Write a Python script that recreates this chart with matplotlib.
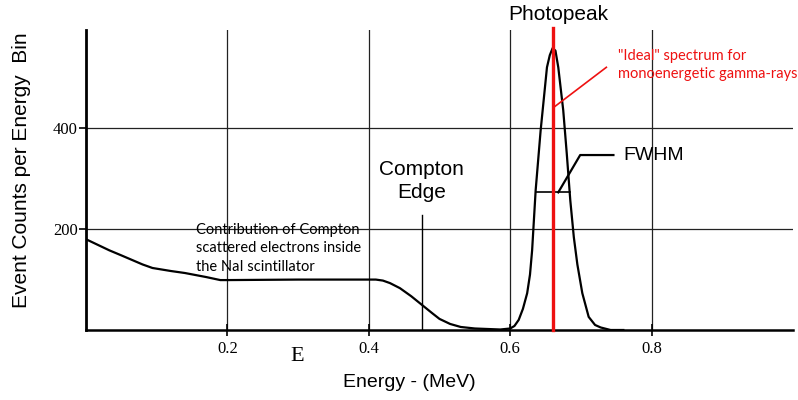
import matplotlib.pyplot as plt

# spectrum (energy in MeV, counts per bin)
energy = [0.0, 0.015, 0.033, 0.05, 0.065, 0.08, 0.094, 0.12, 0.14, 0.17,
          0.19, 0.20, 0.30, 0.41, 0.42, 0.43, 0.444, 0.46, 0.475, 0.49,
          0.50, 0.515, 0.53, 0.55, 0.586, 0.600, 0.606, 0.612, 0.618, 0.624,
          0.628, 0.631, 0.636, 0.643, 0.652, 0.656, 0.660, 0.664, 0.668,
          0.675, 0.680, 0.685, 0.690, 0.695, 0.702, 0.711, 0.720, 0.728,
          0.742, 0.76]
counts = [180, 170, 158, 148, 139, 130, 123, 117, 113, 105,
          99, 99, 100, 100, 98, 93, 83, 67, 50, 33,
          22, 12, 6, 3, 1, 3, 8, 20, 42, 73,
          110, 158, 277, 395, 521, 545, 559, 554, 521,
          436, 350, 257, 184, 130, 73, 26, 10, 5,
          0, 0]

x_ticks = [0.2, 0.4, 0.6, 0.8]
y_ticks = [200, 400]
photopeak_e = 0.66
compton_edge_e = 0.475
compton_edge_top = 228
fwhm_level = 273
fwhm_lo, fwhm_hi = 0.636, 0.685

sans = "Liberation Sans"
serif = "Liberation Serif"
note_font = "Lato"

fig = plt.figure(figsize=(7.98, 4.0), dpi=100)
ax = fig.add_axes([86 / 798, 70 / 400, 707 / 798, 300 / 400])
ax.set_xlim(0, 1.0)
ax.set_ylim(0, 595)

for s in ("top", "right"):
    ax.spines[s].set_visible(False)
ax.spines["left"].set_linewidth(2.0)
ax.spines["bottom"].set_linewidth(1.8)

# grid
for xv in x_ticks:
    ax.axvline(xv, color="#222222", lw=0.9, zorder=1)
for yv in y_ticks:
    ax.axhline(yv, color="#222222", lw=0.9, zorder=1)

ax.set_xticks(x_ticks)
ax.set_xticklabels([f"{v:.1f}" for v in x_ticks], family=serif, fontsize=12)
ax.set_yticks(y_ticks)
ax.set_yticklabels([str(v) for v in y_ticks], family=serif, fontsize=12)
ax.tick_params(axis="x", direction="inout", length=8, width=1.2, pad=4)
ax.tick_params(axis="y", direction="out", length=5, width=1.2, pad=1)

# measured spectrum
ax.plot(energy, counts, color="black", lw=1.6, zorder=3)

# ideal line
ax.axvline(photopeak_e, ymin=0, ymax=1.007, color="#ee1111", lw=2.4,
           zorder=4, clip_on=False)
ax.plot([0.661, 0.736], [441, 521], color="#ee1111", lw=1.2, zorder=4)
ax.text(0.752, 525, "\"Ideal\" spectrum for\nmonoenergetic gamma-rays",
        color="#ee1111", family=note_font, fontsize=10.5, va="center",
        ha="left", linespacing=1.4)

# FWHM
ax.plot([fwhm_lo, fwhm_hi], [fwhm_level, fwhm_level], color="black", lw=1.2)
ax.plot([0.668, 0.699, 0.746], [fwhm_level, 347, 347], color="black", lw=1.6)
ax.text(0.760, 347, "FWHM", family=sans, fontsize=14, va="center", ha="left")

# Compton edge
ax.plot([compton_edge_e, compton_edge_e], [0, compton_edge_top],
        color="black", lw=1.0, zorder=2)
ax.text(compton_edge_e, 295, "Compton\nEdge", family=sans, fontsize=15,
        ha="center", va="center", linespacing=1.25)
ax.text(0.155, 162,
        "Contribution of Compton\nscattered electrons inside\nthe NaI scintillator",
        family=note_font, fontsize=10.5, ha="left", va="center", linespacing=1.4)

ax.text(0.668, 626, "Photopeak", family=sans, fontsize=15, ha="center",
        va="center", clip_on=False)
ax.text(0.299, -53, "E", family=serif, fontsize=16, ha="center",
        va="center", clip_on=False)

ax.set_xlabel("Energy - (MeV)", family=sans, fontsize=14)
ax.xaxis.set_label_coords(0.458, -0.148)
ax.set_ylabel("Event Counts per Energy  Bin", family=sans, fontsize=15)
ax.yaxis.set_label_coords(-0.078, 0.533)

fig.savefig("out.png", dpi=100)
